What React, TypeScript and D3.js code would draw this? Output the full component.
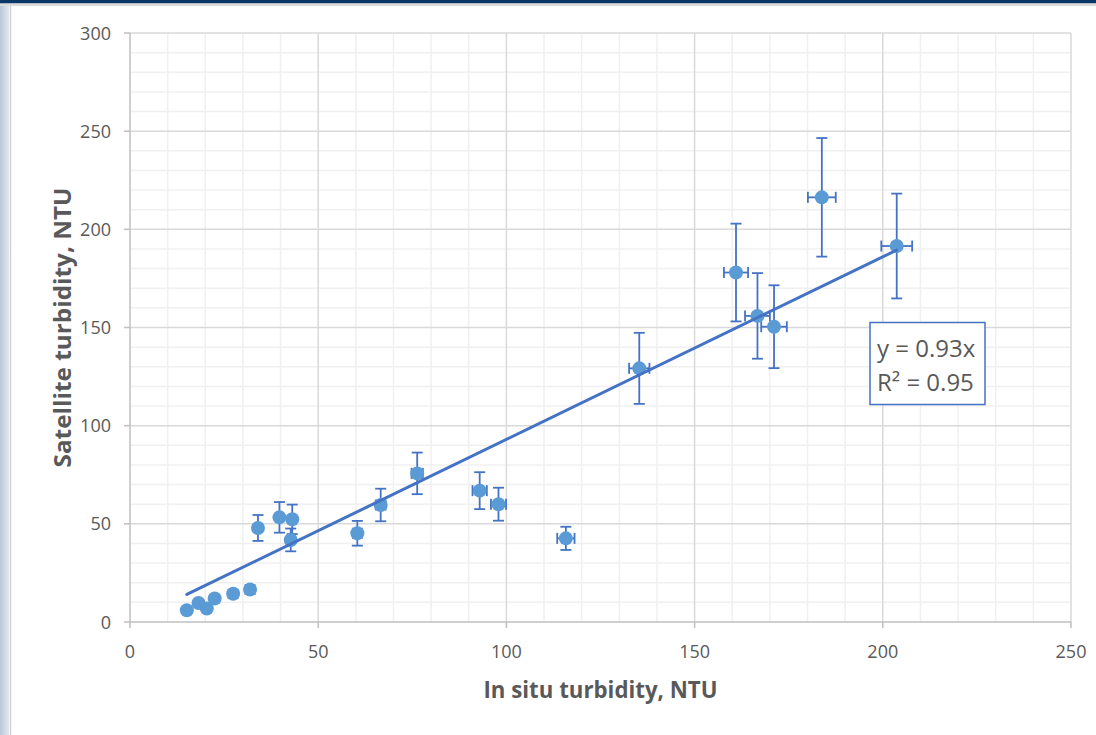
import React from "react";
import * as d3 from "d3";

// in situ vs satellite turbidity (NTU)
const inSitu = [15.1, 18.2, 20.4, 22.5, 27.4, 31.9, 34, 39.7, 43.1, 42.7, 60.4, 66.6, 76.3, 92.9, 97.9, 115.8, 135.3, 161, 166.7, 171.1, 183.8, 203.7];
const satellite = [6, 9.7, 6.9, 12, 14.4, 16.5, 47.9, 53.3, 52.3, 41.8, 45.2, 59.6, 75.7, 66.9, 60, 42.6, 129.2, 178, 155.9, 150.4, 216.3, 191.5];
const xErr = [0.3, 0.4, 0.4, 0.45, 0.55, 0.65, 0.7, 0.8, 0.85, 0.85, 1.2, 1.3, 1.5, 1.9, 2.0, 2.3, 2.7, 3.2, 3.3, 3.4, 3.7, 4.1];
const yErr = [0.85, 1.35, 1.0, 1.7, 2.0, 2.3, 6.6, 7.8, 7.5, 5.8, 6.3, 8.3, 10.6, 9.4, 8.4, 5.9, 18.1, 24.9, 21.8, 21.1, 30.2, 26.7];

const slope = 0.93;
const rSquared = "0.95";

const xTicks = [0, 50, 100, 150, 200, 250];
const yTicks = [0, 50, 100, 150, 200, 250, 300];

const width = 1096;
const height = 735;
const margin = { top: 33, right: 25, bottom: 113, left: 130 };

const font = "'Open Sans', 'DejaVu Sans', sans-serif";
const textColor = "#595959";
const pointColor = "#5B9BD5";
const lineColor = "#4472C4";

const App = () => {
  const x = d3.scaleLinear().domain([0, 250]).range([margin.left, width - margin.right]);
  const y = d3.scaleLinear().domain([0, 300]).range([height - margin.bottom, margin.top]);

  const points = inSitu.map((v, i) => ({ x: v, y: satellite[i], ex: xErr[i], ey: yErr[i] }));
  const minorX = d3.range(0, 251, 10).filter((v) => v % 50 !== 0);
  const minorY = d3.range(0, 301, 10).filter((v) => v % 50 !== 0);

  const [x0, x1] = d3.extent(inSitu) as [number, number];
  const trend = d3.line<number>().x((d) => x(d)).y((d) => y(slope * d))([x0, x1]);

  const cap = 5.5;

  return (
    <svg width={width} height={height} style={{ position: "absolute", left: 0, top: 0, background: "#fff" }}>
      {/* page frame */}
      <defs>
        <linearGradient id="side" x1="0" x2="1" y1="0" y2="0">
          <stop offset="0" stopColor="#b9c6d6" />
          <stop offset="1" stopColor="#e3e8ee" />
        </linearGradient>
      </defs>
      <rect x={0} y={0} width={9} height={height} fill="url(#side)" />
      <line x1={10.5} x2={10.5} y1={4} y2={height} stroke="#d0d0d0" strokeWidth={1.5} />
      <rect x={0} y={0} width={width} height={3.5} fill="#0b3768" />
      <rect x={0} y={3.5} width={width} height={2.5} fill="#dcdcdc" />

      {/* grid */}
      <g strokeWidth={1.5}>
        {minorX.map((v) => (
          <line key={"mx" + v} x1={x(v)} x2={x(v)} y1={y(0)} y2={y(300)} stroke="#f0f0f0" />
        ))}
        {minorY.map((v) => (
          <line key={"my" + v} x1={x(0)} x2={x(250)} y1={y(v)} y2={y(v)} stroke="#f0f0f0" />
        ))}
        {xTicks.slice(1).map((v) => (
          <line key={"gx" + v} x1={x(v)} x2={x(v)} y1={y(0)} y2={y(300)} stroke="#d9d9d9" />
        ))}
        {yTicks.slice(1).map((v) => (
          <line key={"gy" + v} x1={x(0)} x2={x(250)} y1={y(v)} y2={y(v)} stroke="#d9d9d9" />
        ))}
      </g>

      {/* axes */}
      <g stroke="#bfbfbf" strokeWidth={1.5}>
        <line x1={x(0)} x2={x(250)} y1={y(0)} y2={y(0)} />
        <line x1={x(0)} x2={x(0)} y1={y(0)} y2={y(300)} />
        {xTicks.map((v) => (
          <line key={"tx" + v} x1={x(v)} x2={x(v)} y1={y(0)} y2={y(0) + 6} />
        ))}
        {yTicks.map((v) => (
          <line key={"ty" + v} x1={x(0) - 6} x2={x(0)} y1={y(v)} y2={y(v)} />
        ))}
      </g>
      <g fontFamily={font} fontSize={18} fill={textColor}>
        {xTicks.map((v) => (
          <text key={"lx" + v} x={x(v)} y={y(0) + 36} textAnchor="middle">
            {v}
          </text>
        ))}
        {yTicks.map((v) => (
          <text key={"ly" + v} x={x(0) - 19} y={y(v) + 6.5} textAnchor="end">
            {v}
          </text>
        ))}
      </g>

      {/* axis titles */}
      <text
        x={(x(0) + x(250)) / 2}
        y={698}
        textAnchor="middle"
        fontFamily={font}
        fontWeight="bold"
        fontSize={23}
        fill={textColor}
        textLength={234}
        lengthAdjust="spacingAndGlyphs"
      >
        In situ turbidity, NTU
      </text>
      <text
        transform={`translate(71,${(y(0) + y(300)) / 2}) rotate(-90)`}
        textAnchor="middle"
        fontFamily={font}
        fontWeight="bold"
        fontSize={23}
        fill={textColor}
        textLength={280}
        lengthAdjust="spacingAndGlyphs"
      >
        Satellite turbidity, NTU
      </text>

      {/* error bars */}
      <g stroke={lineColor} strokeWidth={1.8}>
        {points.map((p, i) => (
          <g key={"e" + i}>
            <line x1={x(p.x)} x2={x(p.x)} y1={y(p.y - p.ey)} y2={y(p.y + p.ey)} />
            <line x1={x(p.x) - cap} x2={x(p.x) + cap} y1={y(p.y - p.ey)} y2={y(p.y - p.ey)} />
            <line x1={x(p.x) - cap} x2={x(p.x) + cap} y1={y(p.y + p.ey)} y2={y(p.y + p.ey)} />
            <line x1={x(p.x - p.ex)} x2={x(p.x + p.ex)} y1={y(p.y)} y2={y(p.y)} />
            <line x1={x(p.x - p.ex)} x2={x(p.x - p.ex)} y1={y(p.y) - cap} y2={y(p.y) + cap} />
            <line x1={x(p.x + p.ex)} x2={x(p.x + p.ex)} y1={y(p.y) - cap} y2={y(p.y) + cap} />
          </g>
        ))}
      </g>

      {/* points */}
      {points.map((p, i) => (
        <circle key={"p" + i} cx={x(p.x)} cy={y(p.y)} r={7} fill={pointColor} />
      ))}

      {/* trendline */}
      <path d={trend ?? ""} fill="none" stroke={lineColor} strokeWidth={3} strokeLinecap="round" />

      {/* equation label */}
      <rect x={870} y={322.5} width={115} height={82} fill="#fff" stroke={lineColor} strokeWidth={1.5} />
      <g fontFamily={font} fontSize={24} fill={textColor}>
        <text x={877} y={357}>{`y = ${slope}x`}</text>
        <text x={877} y={391}>{`R² = ${rSquared}`}</text>
      </g>
    </svg>
  );
};

export default App;
